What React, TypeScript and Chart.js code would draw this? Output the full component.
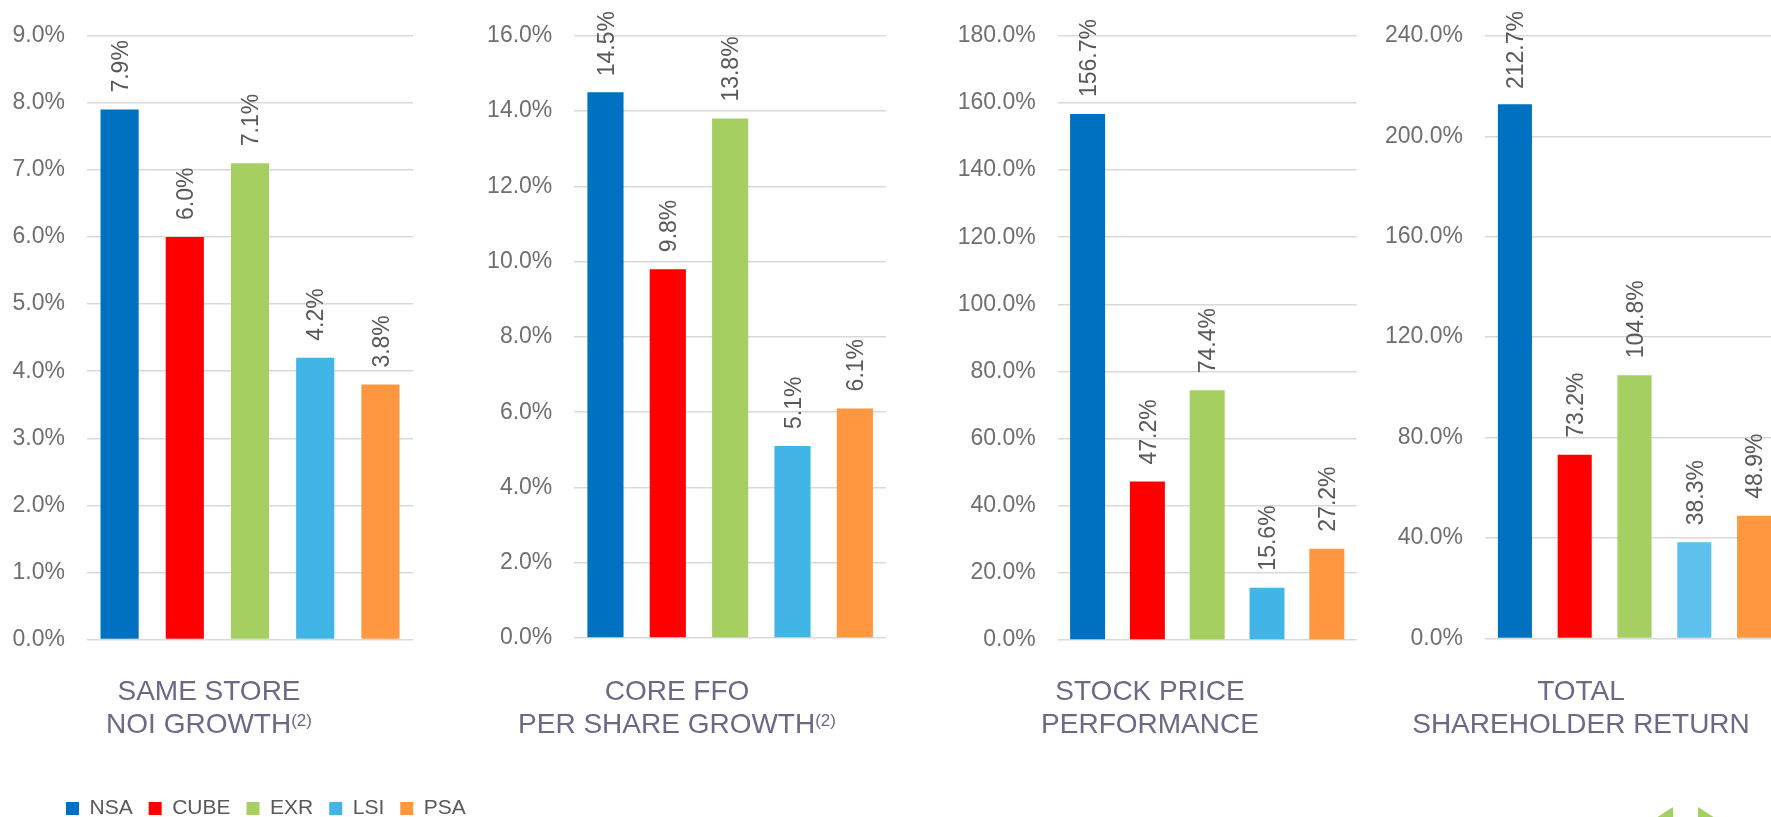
import React, { useEffect, useRef } from "react";
import { Chart, registerables } from "chart.js";

Chart.register(...registerables);

// ---------------- data ----------------
const companies = ["NSA", "CUBE", "EXR", "LSI", "PSA"];
const sameStoreNoiGrowth = [7.9, 6.0, 7.1, 4.2, 3.8];
const coreFfoPerShareGrowth = [14.5, 9.8, 13.8, 5.1, 6.1];
const stockPricePerformance = [156.7, 47.2, 74.4, 15.6, 27.2];
const totalShareholderReturn = [212.7, 73.2, 104.8, 38.3, 48.9];

const axisMax = [9, 16, 180, 240];
const axisStep = [1, 2, 20, 40];

const titleLine1 = ["SAME STORE", "CORE FFO", "STOCK PRICE", "TOTAL"];
const titleLine2 = ["NOI GROWTH", "PER SHARE GROWTH", "PERFORMANCE", "SHAREHOLDER RETURN"];
const titleNote = ["(2)", "(2)", "", ""];

const companyColors = ["#0070C0", "#FF0000", "#A5CF61", "#41B6E6", "#FF9640"];
const companyColorsTsr = ["#0070C0", "#FF0000", "#A5CF61", "#5EC0EC", "#FF9640"];

const seriesList = [sameStoreNoiGrowth, coreFfoPerShareGrowth, stockPricePerformance, totalShareholderReturn];
const colorList = [companyColors, companyColors, companyColors, companyColorsTsr];

// ---------------- styling / layout ----------------
const FONT = "'Liberation Sans', Arial, Helvetica, sans-serif";
const TITLE_COLOR = "#6E6787";
const LEGEND_FONT_SIZE = 21;
const LEGEND_PAD = 16;

const layouts = [
  { left: 0, width: 440, height: 817, plotLeft: 87, plotRight: 413, topY: 33.7, zeroY: 639.5, titleX: 209, barPct: 0.585 },
  { left: 460, width: 440, height: 817, plotLeft: 574.3, plotRight: 886, topY: 31.3, zeroY: 638, titleX: 677, barPct: 0.58 },
  { left: 930, width: 440, height: 817, plotLeft: 1057.7, plotRight: 1356.7, topY: 35, zeroY: 640, titleX: 1150, barPct: 0.585 },
  { left: 1360, width: 424, height: 817, plotLeft: 1485, plotRight: 1784, topY: 34, zeroY: 638.5, titleX: 1581, barPct: 0.57 },
];

const legendLayout = { left: 0, width: 560, height: 829, padLeft: 50 };

const valueLabels = {
  id: "valueLabels",
  afterDatasetsDraw(chart: any) {
    const ctx = chart.ctx as CanvasRenderingContext2D;
    const meta = chart.getDatasetMeta(0);
    const data = chart.data.datasets[0].data as number[];
    ctx.save();
    ctx.font = `23px ${FONT}`;
    ctx.fillStyle = "#595959";
    ctx.textAlign = "left";
    ctx.textBaseline = "alphabetic";
    meta.data.forEach((bar: any, i: number) => {
      const text = data[i].toFixed(1) + "%";
      const w = ctx.measureText(text).width;
      const p = bar.getProps(["x", "y"], true);
      let start = p.y - 17;
      if (start - w < 11) start = 11 + w;
      ctx.save();
      ctx.translate(p.x, start);
      ctx.rotate(-Math.PI / 2);
      ctx.fillText(text, 0, 8.2);
      ctx.restore();
    });
    ctx.restore();
  },
};

const panelTitle = {
  id: "panelTitle",
  afterDraw(chart: any, _args: any, opts: any) {
    const ctx = chart.ctx as CanvasRenderingContext2D;
    ctx.save();
    ctx.fillStyle = TITLE_COLOR;
    ctx.textAlign = "left";
    ctx.textBaseline = "alphabetic";
    ctx.font = `28px ${FONT}`;
    const w1 = ctx.measureText(opts.line1).width;
    ctx.fillText(opts.line1, opts.x - w1 / 2, 700);
    const w2 = ctx.measureText(opts.line2).width;
    ctx.font = `17px ${FONT}`;
    const wn = opts.note ? ctx.measureText(opts.note).width : 0;
    const start = opts.x - (w2 + wn) / 2;
    ctx.font = `28px ${FONT}`;
    ctx.fillText(opts.line2, start, 733);
    if (opts.note) {
      ctx.font = `17px ${FONT}`;
      ctx.fillText(opts.note, start + w2, 725.5);
    }
    ctx.restore();
  },
};

function Panel({ index }: { index: number }) {
  const ref = useRef<HTMLCanvasElement | null>(null);
  const lay = layouts[index];
  useEffect(() => {
    const canvas = ref.current;
    if (!canvas) return;
    const colors = colorList[index];
    const chart = new Chart(canvas, {
      type: "bar",
      data: {
        labels: companies,
        datasets: [
          {
            data: seriesList[index],
            backgroundColor: colors,
            borderWidth: 0,
            barPercentage: lay.barPct,
            categoryPercentage: 1,
          },
        ],
      },
      options: {
        responsive: false,
        animation: false,
        events: [],
        layout: { padding: { left: 0, right: 0, top: lay.topY, bottom: 0 } },
        scales: {
          x: {
            type: "category",
            display: true,
            grid: { display: false },
            border: { display: false },
            ticks: { display: false },
            afterFit: (s: any) => {
              s.height = lay.height - lay.zeroY;
            },
          },
          y: {
            type: "linear",
            position: "left",
            min: 0,
            max: axisMax[index],
            grid: { color: "#D9D9D9", lineWidth: 1.5, drawTicks: false },
            border: { display: false },
            ticks: {
              stepSize: axisStep[index],
              autoSkip: false,
              padding: 22,
              color: "#6F6F6F",
              font: { family: FONT, size: 23 },
              callback: (v: any) => Number(v).toFixed(1) + "%",
            },
            afterFit: (s: any) => {
              s.width = lay.plotLeft - lay.left;
            },
          },
          y2: {
            type: "linear",
            position: "right",
            display: true,
            grid: { display: false },
            border: { display: false },
            ticks: { display: false },
            afterFit: (s: any) => {
              s.width = Math.max(0, lay.left + lay.width - lay.plotRight);
            },
          },
        },
        plugins: {
          tooltip: { enabled: false },
          legend: { display: false },
          panelTitle: {
            x: lay.titleX - lay.left,
            line1: titleLine1[index],
            line2: titleLine2[index],
            note: titleNote[index],
          },
        } as any,
      },
      plugins: [valueLabels, panelTitle],
    } as any);
    return () => chart.destroy();
  }, [index]);
  return (
    <canvas
      ref={ref}
      width={lay.width}
      height={lay.height}
      style={{ position: "absolute", left: lay.left, top: 0, width: lay.width, height: lay.height }}
    />
  );
}

function CompanyLegend() {
  const ref = useRef<HTMLCanvasElement | null>(null);
  useEffect(() => {
    const canvas = ref.current;
    if (!canvas) return;
    const chart = new Chart(canvas, {
      type: "bar",
      data: { labels: companies, datasets: [] },
      options: {
        responsive: false,
        animation: false,
        events: [],
        layout: { padding: { left: legendLayout.padLeft, right: 0, top: 0, bottom: 0 } },
        scales: { x: { display: false }, y: { display: false } },
        plugins: {
          tooltip: { enabled: false },
          legend: {
            display: true,
            position: "bottom",
            align: "start",
            labels: {
              boxWidth: 13,
              boxHeight: 13,
              padding: LEGEND_PAD,
              color: "#595959",
              font: { family: FONT, size: LEGEND_FONT_SIZE },
              generateLabels: () =>
                companies.map((c, i) => ({
                  text: c,
                  fillStyle: companyColors[i],
                  strokeStyle: companyColors[i],
                  lineWidth: 0,
                  hidden: false,
                  index: i,
                  fontColor: "#595959",
                })),
            },
          },
        },
      },
    } as any);
    return () => chart.destroy();
  }, []);
  return (
    <canvas
      ref={ref}
      width={legendLayout.width}
      height={legendLayout.height}
      style={{
        position: "absolute",
        left: legendLayout.left,
        top: 0,
        width: legendLayout.width,
        height: legendLayout.height,
      }}
    />
  );
}

export default function App() {
  return (
    <div
      style={{
        position: "absolute",
        left: 0,
        top: 0,
        width: 1771,
        height: 817,
        overflow: "hidden",
        background: "#ffffff",
      }}
    >
      {layouts.map((_, i) => (
        <Panel key={i} index={i} />
      ))}
      <CompanyLegend />
      <div
        style={{
          position: "absolute",
          left: 1656,
          top: 807,
          width: 0,
          height: 0,
          borderTop: "11px solid transparent",
          borderBottom: "11px solid transparent",
          borderRight: "17px solid #A5CF61",
        }}
      />
      <div
        style={{
          position: "absolute",
          left: 1698,
          top: 807,
          width: 0,
          height: 0,
          borderTop: "11px solid transparent",
          borderBottom: "11px solid transparent",
          borderLeft: "17px solid #A5CF61",
        }}
      />
    </div>
  );
}
